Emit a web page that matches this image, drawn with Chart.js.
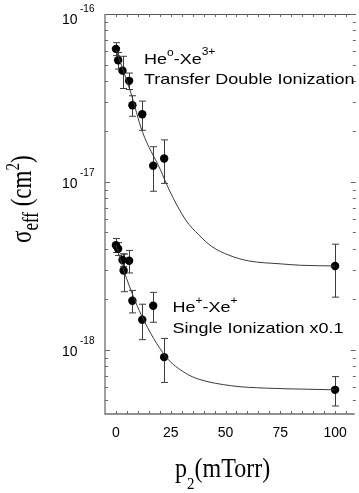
<!DOCTYPE html>
<html>
<head>
<meta charset="utf-8">
<script src="https://cdn.jsdelivr.net/npm/chart.js@4.4.0/dist/chart.umd.min.js"></script>
<style>
html, body { margin: 0; padding: 0; background: #fff; }
#wrap { width: 359px; height: 493px; }
</style>
</head>
<body>
<div id="wrap"><canvas id="sigma-chart" width="359" height="493"></canvas></div>
<script>
"use strict";

// He0 - Xe3+ transfer double ionization (p2 in mTorr, sigma in cm^2)
var pDouble = [0, 1, 3, 6, 7.5, 12, 17, 22, 100];
var sigmaDouble = [6.2e-17, 5.3e-17, 4.6e-17, 4.0e-17, 2.86e-17, 2.53e-17, 1.25e-17, 1.38e-17, 3.16e-18];
var errDouble = [0.55e-17, 0.6e-17, 1.0e-17, 0.45e-17, 0.4e-17, 0.5e-17, 0.37e-17, 0.4e-17, 1.1e-18];

// He+ - Xe+ single ionization (x0.1)
var pSingle = [0, 1, 3, 3.5, 6, 7.5, 12, 17, 22, 100];
var sigmaSingle = [4.2e-18, 4.0e-18, 3.43e-18, 2.97e-18, 3.39e-18, 1.96e-18, 1.51e-18, 1.83e-18, 9.05e-19, 5.78e-19];
var errSingle = [0.4e-18, 0.35e-18, 0.3e-18, 0.75e-18, 0.52e-18, 0.3e-18, 0.36e-18, 0.37e-18, 0.265e-18, 0.115e-18];

// fitted curves
var fitDoubleP = [0, 6.8, 12, 20.3, 24.3, 31.8, 37.8, 43.8, 51.4, 60.4, 75.4, 84.2, 100];
var fitDoubleSigma = [6.1e-17, 3.39e-17, 2.0e-17, 1.18e-17, 8.96e-18, 5.94e-18, 4.84e-18, 4.12e-18, 3.67e-18, 3.39e-18, 3.25e-18, 3.19e-18, 3.16e-18];
var fitSingleP = [0, 4, 11.6, 22.8, 31.8, 37.8, 52.8, 67.9, 87.4, 100];
var fitSingleSigma = [4.2e-18, 2.86e-18, 1.61e-18, 9.1e-19, 7.26e-19, 6.69e-19, 6.11e-19, 5.92e-19, 5.83e-19, 5.78e-19];

// axes
var xLabels = [0, 25, 50, 75, 100];
var yDecades = [1e-18, 1e-17, 1e-16];
var yExponents = ['-18', '-17', '-16'];

var xMinor = [];
for (var t = 0; t <= 105; t += 5) xMinor.push(t);
var yMinor = [];
[1e-19, 1e-18, 1e-17].forEach(function (d) {
    for (var k = 2; k <= 9; k++) if (k * d > 4.15e-19) yMinor.push(k * d);
});

function pts(xs, ys) {
    return xs.map(function (x, i) { return { x: x, y: ys[i] }; });
}

// draws text pieces one after another: [text, font, dy]
function drawRich(ctx, parts, x, y) {
    parts.forEach(function (p) {
        ctx.font = p[1];
        ctx.fillText(p[0], x, y + (p[2] || 0));
        x += ctx.measureText(p[0]).width;
    });
    return x;
}

var SANS = "'Liberation Sans', Arial, sans-serif";
var SERIF = "'Liberation Serif', 'Times New Roman', serif";

var framePlugin = {
    id: 'frame',
    beforeDatasetsDraw: function (chart) {
        var ctx = chart.ctx;
        var xs = chart.scales.x, ys = chart.scales.y;
        // error bars
        ctx.save();
        ctx.strokeStyle = '#3c3c3c';
        ctx.lineWidth = 1;
        chart.data.datasets.forEach(function (ds) {
            if (!ds.errors) return;
            ds.data.forEach(function (d, i) {
                var px = Math.round(xs.getPixelForValue(d.x)) + 0.5;
                var top = ys.getPixelForValue(d.y + ds.errors[i]);
                var bot = ys.getPixelForValue(d.y - ds.errors[i]);
                ctx.beginPath();
                ctx.moveTo(px, top); ctx.lineTo(px, bot);
                ctx.moveTo(px - 3.5, top); ctx.lineTo(px + 3.5, top);
                ctx.moveTo(px - 3.5, bot); ctx.lineTo(px + 3.5, bot);
                ctx.stroke();
            });
        });
        ctx.restore();
    },
    afterDraw: function (chart) {
        var ctx = chart.ctx;
        var a = chart.chartArea;
        var xs = chart.scales.x, ys = chart.scales.y;
        ctx.save();

        // frame
        ctx.strokeStyle = '#6e6e6e';
        ctx.lineWidth = 1.3;
        ctx.beginPath();
        ctx.moveTo(a.left, a.top); ctx.lineTo(a.left, a.bottom); ctx.lineTo(a.right, a.bottom);
        ctx.stroke();
        ctx.lineWidth = 1;
        ctx.strokeStyle = '#555';
        ctx.beginPath();
        ctx.moveTo(a.left, a.top + 0.5); ctx.lineTo(a.right + 1, a.top + 0.5);
        ctx.stroke();

        // ticks inside the frame
        ctx.strokeStyle = '#666';
        ctx.beginPath();
        xMinor.forEach(function (v) {
            var px = Math.round(xs.getPixelForValue(v)) + 0.5;
            ctx.moveTo(px, a.bottom); ctx.lineTo(px, a.bottom - 3);
            ctx.moveTo(px, a.top); ctx.lineTo(px, a.top + 3);
        });
        yMinor.forEach(function (v) {
            var py = Math.round(ys.getPixelForValue(v)) + 0.5;
            ctx.moveTo(a.left, py); ctx.lineTo(a.left + 3, py);
            ctx.moveTo(a.right + 1, py); ctx.lineTo(a.right - 2, py);
        });
        yDecades.forEach(function (v) {
            var py = Math.round(ys.getPixelForValue(v)) + 0.5;
            ctx.moveTo(a.left, py); ctx.lineTo(a.left + 5, py);
            ctx.moveTo(a.right + 1, py); ctx.lineTo(a.right - 4, py);
        });
        ctx.stroke();

        // tick labels
        ctx.fillStyle = '#000';
        ctx.font = '14px ' + SANS;
        ctx.textAlign = 'center';
        ctx.textBaseline = 'alphabetic';
        xLabels.forEach(function (v) {
            ctx.fillText(String(v), xs.getPixelForValue(v), 437);
        });
        ctx.textAlign = 'left';
        yDecades.forEach(function (v, i) {
            var py = Math.max(ys.getPixelForValue(v) + 6.3, 23.5);
            ctx.font = '14px ' + SANS;
            ctx.fillText('10', 62, py);
            ctx.font = '10px ' + SANS;
            ctx.fillText(yExponents[i], 80, py - 11.8);
        });

        // annotations
        ctx.save();
        ctx.translate(144, 63.5);
        ctx.scale(1.2, 1);
        drawRich(ctx, [['He', '15px ' + SANS], ['o', '10px ' + SANS, -7.5], ['-Xe', '15px ' + SANS], ['3+', '10px ' + SANS, -8.5]], 0, 0);
        drawRich(ctx, [['Transfer Double Ionization', '15px ' + SANS]], 0, 20);
        ctx.restore();

        ctx.save();
        ctx.translate(172.5, 311.5);
        ctx.scale(1.2, 1);
        drawRich(ctx, [['He', '15px ' + SANS], ['+', '10px ' + SANS, -8], ['-Xe', '15px ' + SANS], ['+', '10px ' + SANS, -8]], 0, 0);
        drawRich(ctx, [['Single Ionization x0.1', '15px ' + SANS]], 0, 21);
        ctx.restore();

        // axis titles
        ctx.save();
        ctx.translate(175, 477);
        ctx.scale(1, 1.15);
        drawRich(ctx, [['p', '24px ' + SERIF], ['2', '15px ' + SERIF, 10], ['(mTorr)', '24px ' + SERIF]], 0, 0);
        ctx.restore();

        ctx.save();
        ctx.translate(31, 243);
        ctx.rotate(-Math.PI / 2);
        ctx.scale(1, 1.3);
        drawRich(ctx, [['σ', '23px ' + SERIF], ['eff', '17px ' + SERIF, 5], [' (cm', '23px ' + SERIF], ['2', '15px ' + SERIF, -9], [')', '23px ' + SERIF]], 0, 0);
        ctx.restore();

        ctx.restore();
    }
};

var chart = new Chart(document.getElementById('sigma-chart'), {
    type: 'scatter',
    data: {
        datasets: [{
            label: 'fit double',
            data: pts(fitDoubleP, fitDoubleSigma),
            showLine: true,
            pointRadius: 0,
            borderColor: '#3a3a3a',
            borderWidth: 1,
            cubicInterpolationMode: 'monotone'
        }, {
            label: 'fit single',
            data: pts(fitSingleP, fitSingleSigma),
            showLine: true,
            pointRadius: 0,
            borderColor: '#3a3a3a',
            borderWidth: 1,
            cubicInterpolationMode: 'monotone'
        }, {
            label: 'He0-Xe3+',
            data: pts(pDouble, sigmaDouble),
            errors: errDouble,
            pointRadius: 4.2,
            pointBackgroundColor: '#000',
            pointBorderColor: '#000',
            pointBorderWidth: 0
        }, {
            label: 'He+-Xe+',
            data: pts(pSingle, sigmaSingle),
            errors: errSingle,
            pointRadius: 4.2,
            pointBackgroundColor: '#000',
            pointBorderColor: '#000',
            pointBorderWidth: 0
        }]
    },
    options: {
        responsive: false,
        animation: false,
        devicePixelRatio: 1,
        layout: { padding: { left: 105, top: 14, right: 1, bottom: 79 } },
        plugins: { legend: { display: false }, tooltip: { enabled: false } },
        scales: {
            x: { type: 'linear', min: -5, max: 109, display: false },
            y: { type: 'logarithmic', min: 4.15e-19, max: 1e-16, display: false }
        }
    },
    plugins: [framePlugin]
});
</script>
</body>
</html>
